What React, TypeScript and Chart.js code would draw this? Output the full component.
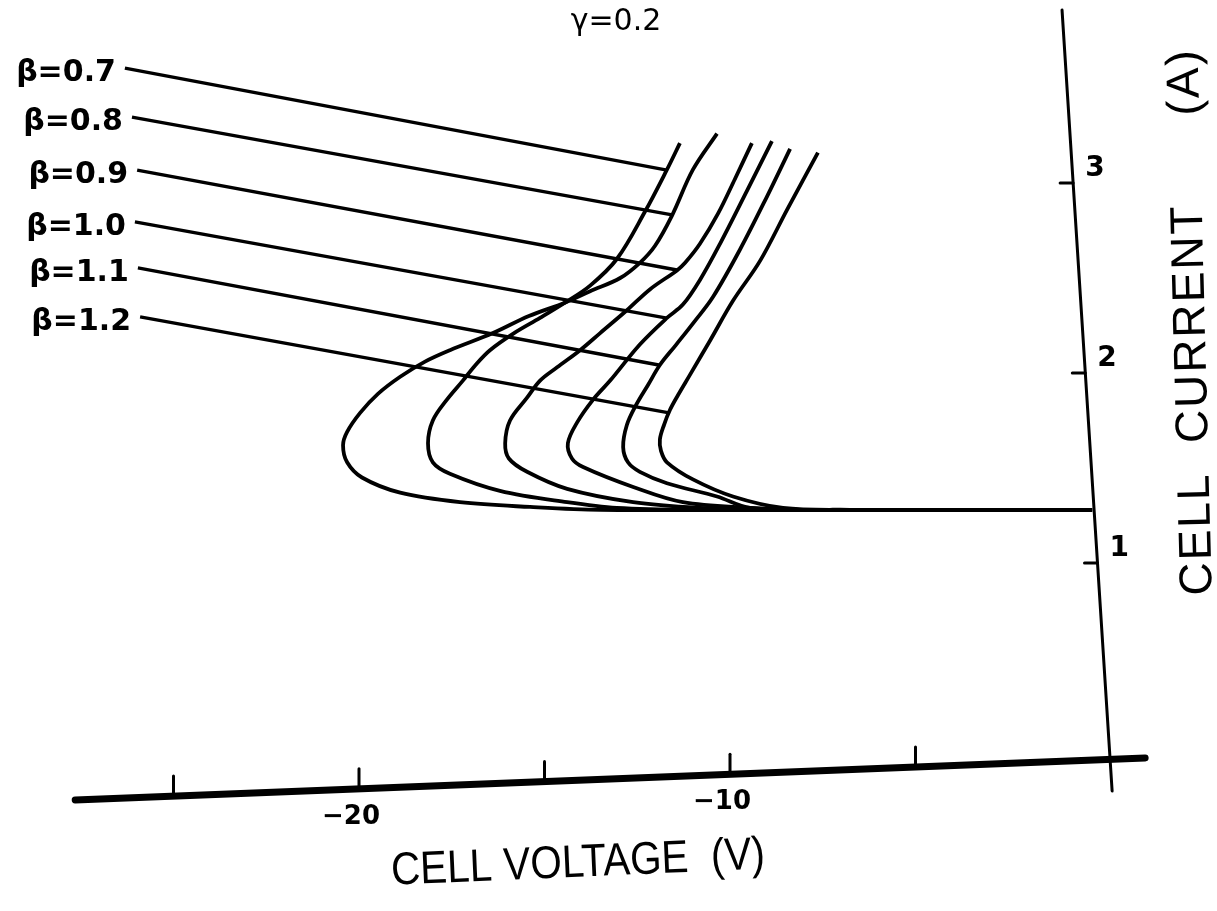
import React, { useEffect, useRef } from 'react';
import { Chart, registerables } from 'chart.js';

Chart.register(...registerables);

// ---------- text ----------
const BETA_LABELS = ['β=0.7', 'β=0.8', 'β=0.9', 'β=1.0', 'β=1.1', 'β=1.2'];
const GAMMA_LABEL = 'γ=0.2';
const X_TITLE = 'CELL VOLTAGE  (V)';
const Y_TITLE = 'CELL  CURRENT      (A)';

// ---------- axis ticks ----------
const X_TICKS = [-25, -20, -15, -10, -5];
const X_TICK_LABELS = ['', '−20', '', '−10', ''];
const Y_TICKS = [1, 2, 3];
const Y_TICK_LABELS = ['1', '2', '3'];

// ---------- curves: [cell voltage (V), cell current (A)] ----------
const CURVE_B07: [number, number][] = [
  [-0.24, 1.28], [-6.0, 1.28], [-10.81, 1.28], [-13.05, 1.29], [-14.39, 1.32], [-16.2, 1.38],
  [-17.55, 1.47], [-18.01, 1.53], [-18.14, 1.63], [-18.01, 1.75], [-17.63, 1.86], [-17.2, 1.96],
  [-16.87, 2.04], [-16.47, 2.12], [-15.82, 2.21], [-15.12, 2.29], [-14.45, 2.37], [-13.77, 2.46],
  [-13.05, 2.6], [-12.29, 2.85], [-11.7, 3.07], [-11.35, 3.21],
];
const CURVE_B08: [number, number][] = [
  [-0.24, 1.28], [-7.0, 1.28], [-13.5, 1.28], [-15.39, 1.295], [-17.28, 1.32], [-18.89, 1.37],
  [-19.92, 1.45], [-20.32, 1.53], [-20.43, 1.62], [-20.32, 1.69], [-19.97, 1.79], [-19.49, 1.89],
  [-18.89, 1.98], [-18.22, 2.06], [-17.55, 2.12], [-16.39, 2.21], [-15.42, 2.3], [-14.45, 2.37],
  [-13.77, 2.43], [-12.96, 2.5], [-12.43, 2.58], [-12.02, 2.67], [-11.56, 2.83], [-11.0, 3.07],
  [-10.35, 3.26],
];
const CURVE_B09: [number, number][] = [
  [-0.24, 1.28], [-5.0, 1.28], [-8.92, 1.28], [-10.81, 1.29], [-12.61, 1.32], [-14.39, 1.39],
  [-15.47, 1.48], [-15.96, 1.55], [-16.06, 1.63], [-15.93, 1.75], [-15.47, 1.87], [-15.12, 1.96],
  [-14.66, 2.03], [-14.04, 2.12], [-13.5, 2.21], [-12.78, 2.33], [-12.16, 2.44], [-11.43, 2.54],
  [-11.21, 2.58], [-10.81, 2.68], [-10.32, 2.84], [-9.87, 3.02], [-9.41, 3.21],
];
const CURVE_B10: [number, number][] = [
  [-0.24, 1.28], [-4.5, 1.28], [-8.11, 1.28], [-9.46, 1.29], [-11.27, 1.32], [-12.61, 1.4],
  [-13.96, 1.505], [-14.26, 1.55], [-14.37, 1.63], [-14.12, 1.74], [-13.69, 1.86], [-13.23, 1.96],
  [-12.43, 2.15], [-11.7, 2.29], [-11.27, 2.36], [-10.81, 2.49], [-10.27, 2.68], [-9.54, 2.96],
  [-8.87, 3.22],
];
const CURVE_B11: [number, number][] = [
  [-0.24, 1.28], [-4.0, 1.28], [-7.57, 1.28], [-9.46, 1.29], [-10.35, 1.35], [-11.7, 1.42],
  [-12.43, 1.48], [-12.75, 1.53], [-12.88, 1.61], [-12.78, 1.726], [-12.53, 1.832], [-12.21, 1.937],
  [-11.89, 2.042], [-11.46, 2.147], [-10.97, 2.268], [-10.46, 2.4], [-9.73, 2.65], [-9.0, 2.93],
  [-8.38, 3.18],
];
const CURVE_B12: [number, number][] = [
  [-0.24, 1.28], [-3.5, 1.28], [-6.77, 1.28], [-8.57, 1.29], [-9.92, 1.35], [-11.0, 1.44],
  [-11.7, 1.53], [-11.86, 1.59], [-11.89, 1.65], [-11.78, 1.726], [-11.62, 1.805], [-11.4, 1.884],
  [-11.08, 1.99], [-10.54, 2.17], [-9.92, 2.38], [-9.19, 2.59], [-8.46, 2.86], [-7.63, 3.16],
];

// ---------- leader lines from the β labels to their curves ----------
const LEADER_START_V = [-26.31, -26.12, -25.98, -26.04, -25.96, -25.9];
const LEADER_START_I = [3.605, 3.347, 3.068, 2.795, 2.553, 2.295];
const LEADER_END_V = [-11.7, -11.56, -11.43, -11.7, -11.92, -11.64];
const LEADER_END_I = [3.068, 2.832, 2.542, 2.289, 2.042, 1.79];

// ---------- styling / layout ----------
const INK = '#000000';
const SANS = "'Liberation Sans', 'DejaVu Sans', sans-serif";
const DEJAVU = "'DejaVu Sans', 'Liberation Sans', sans-serif";
// hand-drawn (slightly skewed) axis lines, given in scale values
const Y_AXIS_LINE = { v0: -1.05, i0: 3.91, v1: 0.3, i1: -0.2 };
const X_AXIS_LINE = { v0: -27.65, i0: -0.247, v1: 1.19, i1: -0.026 };

const handAxes = {
  id: 'handAxes',
  afterDatasetsDraw(chart: any) {
    const { ctx } = chart;
    const xs = chart.scales.x;
    const ys = chart.scales.y;
    const px = (v: number) => xs.getPixelForValue(v);
    const py = (i: number) => ys.getPixelForValue(i);
    ctx.save();
    ctx.strokeStyle = INK;
    ctx.fillStyle = INK;
    ctx.lineCap = 'round';

    // y axis
    const ya = { x0: px(Y_AXIS_LINE.v0), y0: py(Y_AXIS_LINE.i0), x1: px(Y_AXIS_LINE.v1), y1: py(Y_AXIS_LINE.i1) };
    ctx.lineWidth = 3;
    ctx.beginPath();
    ctx.moveTo(ya.x0, ya.y0);
    ctx.lineTo(ya.x1, ya.y1);
    ctx.stroke();
    const yAxisXAt = (yy: number) => ya.x0 + ((yy - ya.y0) / (ya.y1 - ya.y0)) * (ya.x1 - ya.x0);

    // x axis
    const xa = { x0: px(X_AXIS_LINE.v0), y0: py(X_AXIS_LINE.i0), x1: px(X_AXIS_LINE.v1), y1: py(X_AXIS_LINE.i1) };
    ctx.lineWidth = 7;
    ctx.beginPath();
    ctx.moveTo(xa.x0, xa.y0);
    ctx.lineTo(xa.x1, xa.y1);
    ctx.stroke();
    const xAxisYAt = (xx: number) => xa.y0 + ((xx - xa.x0) / (xa.x1 - xa.x0)) * (xa.y1 - xa.y0);

    // y ticks + labels
    ctx.lineWidth = 3;
    ctx.font = `bold 28px ${DEJAVU}`;
    ctx.textAlign = 'left';
    ctx.textBaseline = 'middle';
    Y_TICKS.forEach((t, k) => {
      const yy = py(t);
      const ax = yAxisXAt(yy);
      ctx.beginPath();
      ctx.moveTo(ax - 13, yy);
      ctx.lineTo(ax, yy);
      ctx.stroke();
      ctx.fillText(Y_TICK_LABELS[k], ax + 12, yy - 14);
    });

    // x ticks + labels
    ctx.font = `bold 26px ${DEJAVU}`;
    ctx.textAlign = 'center';
    X_TICKS.forEach((t, k) => {
      const xx = px(t);
      const ay = xAxisYAt(xx);
      ctx.beginPath();
      ctx.moveTo(xx, ay);
      ctx.lineTo(xx, ay - 20);
      ctx.stroke();
      if (X_TICK_LABELS[k]) ctx.fillText(X_TICK_LABELS[k], xx - 8, ay + 28);
    });

    // axis titles
    ctx.font = `46px ${SANS}`;
    ctx.save();
    ctx.translate(578, 864);
    ctx.rotate((-2.5 * Math.PI) / 180);
    ctx.scale(0.88, 1);
    ctx.textAlign = 'center';
    ctx.fillText(X_TITLE, 0, 0);
    ctx.restore();

    ctx.font = `46px ${SANS}`;
    ctx.save();
    ctx.translate(1192, 322);
    ctx.rotate((-91.5 * Math.PI) / 180);
    (ctx as any).letterSpacing = '2px';
    ctx.textAlign = 'center';
    ctx.fillText(Y_TITLE, 0, 0);
    (ctx as any).letterSpacing = '0px';
    ctx.restore();

    // gamma annotation
    ctx.font = `30px ${DEJAVU}`;
    ctx.textAlign = 'center';
    ctx.fillText(GAMMA_LABEL, 616, 22);

    // beta labels at the start of their leader lines
    ctx.font = `bold 30px ${DEJAVU}`;
    ctx.textAlign = 'right';
    BETA_LABELS.forEach((lab, k) => {
      const xx = px(LEADER_START_V[k]);
      const yy = py(LEADER_START_I[k]);
      ctx.fillText(lab, xx - 9, yy + 5);
    });
    ctx.restore();
  },
};

export default function App() {
  const ref = useRef<HTMLCanvasElement>(null);
  useEffect(() => {
    const canvas = ref.current;
    if (!canvas) return;
    const curves = [CURVE_B07, CURVE_B08, CURVE_B09, CURVE_B10, CURVE_B11, CURVE_B12];
    const datasets: any[] = curves.map((c, k) => ({
      label: BETA_LABELS[k],
      data: c.map(([v, i]) => ({ x: v, y: i })),
      showLine: true,
      borderColor: INK,
      borderWidth: 3.8,
      pointRadius: 0,
      tension: 0.35,
      fill: false,
    }));
    LEADER_START_V.forEach((_, k) => {
      datasets.push({
        label: `leader ${BETA_LABELS[k]}`,
        data: [
          { x: LEADER_START_V[k], y: LEADER_START_I[k] },
          { x: LEADER_END_V[k], y: LEADER_END_I[k] },
        ],
        showLine: true,
        borderColor: INK,
        borderWidth: 3.4,
        pointRadius: 0,
        tension: 0,
        fill: false,
      });
    });
    const chart = new Chart(canvas, {
      type: 'scatter',
      data: { datasets },
      options: {
        responsive: false,
        animation: false,
        devicePixelRatio: 1,
        layout: { padding: { left: 25.1, right: 78.9, top: 12, bottom: 63 } },
        scales: {
          x: { type: 'linear', min: -29, max: 1, display: false },
          y: { type: 'linear', min: -0.5, max: 3.9, display: false },
        },
        plugins: { legend: { display: false }, tooltip: { enabled: false } },
      },
      plugins: [handAxes],
    } as any);
    return () => chart.destroy();
  }, []);
  return (
    <div style={{ position: 'fixed', left: 0, top: 0, width: 1217, height: 911, background: '#ffffff' }}>
      <canvas ref={ref} width={1217} height={911} style={{ display: 'block', width: 1217, height: 911 }} />
    </div>
  );
}
